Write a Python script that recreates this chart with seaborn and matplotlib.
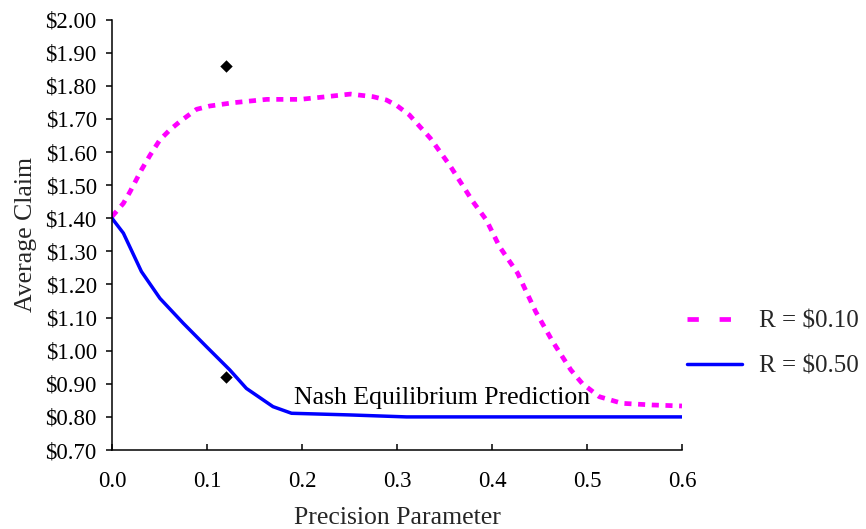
import matplotlib
matplotlib.use("Agg")
import matplotlib.pyplot as plt
import seaborn as sns
import pandas as pd
from matplotlib.ticker import FuncFormatter, MultipleLocator
from matplotlib.lines import Line2D

# Data
x_r10 = [0.0, 0.012, 0.019, 0.031, 0.040, 0.0505, 0.061, 0.0715, 0.089, 0.103, 0.128, 0.163,
         0.198, 0.222, 0.251, 0.275, 0.289, 0.30, 0.313, 0.335, 0.356, 0.380, 0.394, 0.408,
         0.427, 0.446, 0.464, 0.483, 0.495, 0.513, 0.537, 0.569, 0.60]
y_r10 = [1.405, 1.445, 1.48, 1.546, 1.59, 1.637, 1.667, 1.692, 1.729, 1.739, 1.749, 1.759,
         1.759, 1.766, 1.775, 1.767, 1.757, 1.740, 1.712, 1.642, 1.558, 1.450, 1.395, 1.314,
         1.234, 1.118, 1.027, 0.942, 0.901, 0.861, 0.841, 0.836, 0.833]

x_r50 = [0.0, 0.012, 0.031, 0.0505, 0.075, 0.0995, 0.124, 0.1415, 0.1695, 0.189, 0.25, 0.31, 0.40, 0.50, 0.60]
y_r50 = [1.40, 1.355, 1.239, 1.158, 1.083, 1.012, 0.942, 0.886, 0.831, 0.811, 0.806, 0.800, 0.800, 0.800, 0.800]

x_points = [0.12, 0.12]
y_points = [1.86, 0.92]

series_labels = ["R = $0.10", "R = $0.50"]
annotation_text = "Nash Equilibrium Prediction"
x_label = "Precision Parameter"
y_label = "Average Claim"

sns.set_style("ticks")
plt.rcParams['font.family'] = ['Liberation Serif', 'DejaVu Serif']
plt.rcParams['axes.unicode_minus'] = False

fig = plt.figure(figsize=(8.66, 5.29), dpi=100)
ax = fig.add_axes([0.1293, 0.1493, 0.7875 - 0.1293, 0.963 - 0.1493])

df10 = pd.DataFrame({"x": x_r10, "y": y_r10})
df50 = pd.DataFrame({"x": x_r50, "y": y_r50})
dfp = pd.DataFrame({"x": x_points, "y": y_points})

sns.lineplot(data=df10, x="x", y="y", ax=ax, color="#FF00FF", linewidth=3.4,
             linestyle=(0, (1.5, 1.4)), sort=False, estimator=None)
sns.lineplot(data=df50, x="x", y="y", ax=ax, color="#0000FF", linewidth=2.5,
             sort=False, estimator=None)
sns.scatterplot(data=dfp, x="x", y="y", ax=ax, color="black", marker="D", s=40,
                edgecolor="black", linewidth=0, zorder=5)

ax.text(0.192, 0.839, annotation_text, fontsize=18.5, color="black", ha="left", va="baseline")

ax.set_xlim(0, 0.6)
ax.set_ylim(0.70, 2.00)
ax.xaxis.set_major_locator(MultipleLocator(0.1))
ax.yaxis.set_major_locator(MultipleLocator(0.1))
ax.xaxis.set_major_formatter(FuncFormatter(lambda v, p: f"{v:.1f}"))
ax.yaxis.set_major_formatter(FuncFormatter(lambda v, p: f"${v:.2f}"))

ax.tick_params(axis="y", direction="out", length=4, width=1.1, pad=7, labelsize=16.5, colors="black")
ax.tick_params(axis="x", direction="in", length=4, width=1.1, pad=15, labelsize=16.5, colors="black")

for s in ["top", "right"]:
    ax.spines[s].set_visible(False)
for s in ["left", "bottom"]:
    ax.spines[s].set_linewidth(1.1)
    ax.spines[s].set_color("black")

ax.set_xlabel(x_label, fontsize=18.5, labelpad=11)
ax.set_ylabel(y_label, fontsize=18.5, labelpad=6)

handles = [Line2D([], [], color="#FF00FF", linewidth=3.4, linestyle=(0, (2.4, 4.4))),
           Line2D([], [], color="#0000FF", linewidth=2.5)]
fig.legend(handles, series_labels, loc="center left", bbox_to_anchor=(0.793, 0.35),
           frameon=False, fontsize=18, handlelength=2.2, handletextpad=0.7,
           labelspacing=0.9, borderpad=0, borderaxespad=0)

fig.savefig("out.png", dpi=100)
